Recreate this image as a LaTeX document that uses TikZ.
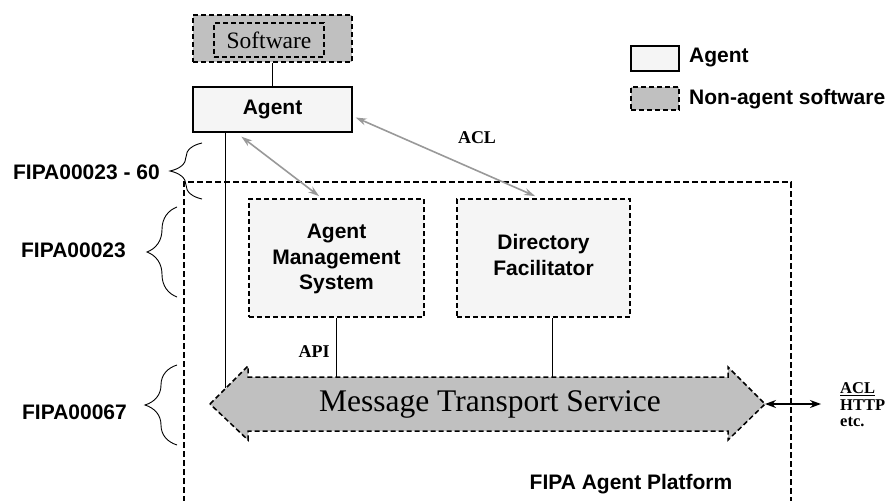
\documentclass[tikz,border=0pt]{standalone}
\usepackage{fontspec}
\setmainfont{Liberation Serif}
\setsansfont{Liberation Sans}
\usetikzlibrary{arrows.meta,decorations.pathreplacing,calc}
\definecolor{lightbox}{HTML}{F5F5F5}
\definecolor{swgray}{HTML}{C0C0C0}
\definecolor{arrgray}{HTML}{999999}
\begin{document}
\begin{tikzpicture}[x=1pt,y=-1pt,
  sflab/.style={font=\fontsize{21}{25.5}\selectfont\sffamily\bfseries, inner sep=0pt},
  serlab/.style={font=\fontsize{18}{20}\selectfont\bfseries, inner sep=0pt},
  agentbox/.style={draw, line width=1.3pt, fill=lightbox, inner sep=0pt},
  dbox/.style={draw, line width=1.8pt, dash pattern=on 5pt off 3pt, inner sep=0pt},
  swbox/.style={dbox, fill=swgray},
  compbox/.style={dbox, fill=lightbox},
  boxtext/.style={align=center, inner sep=0pt, font=\fontsize{21}{25.5}\selectfont\sffamily\bfseries},
  platbox/.style={draw, line width=2pt, dash pattern=on 6pt off 3pt},
  thinline/.style={draw, line width=1pt},
  grarr/.style={draw=arrgray, line width=1.6pt, {Stealth[length=11pt,width=7pt]}-{Stealth[length=11pt,width=7pt]}},
  bkarr/.style={draw, line width=1.3pt, {Stealth[length=11pt,width=8pt]}-{Stealth[length=11pt,width=8pt]}},
  bracestyle/.style={draw, line width=0.9pt, decorate},
]
\useasboundingbox (0,0) rectangle (890,500);

% platform
\draw[platbox] (184,520) -- (184,182) -- (791,182) -- (791,520);
\node[sflab] (plat) at (631,484) {FIPA Agent Platform};

% software and agent
\node[swbox, minimum width=159pt, minimum height=47pt] (sw) at (272.5,38.5) {};
\node[dbox, minimum width=110pt, minimum height=34pt, font=\fontsize{23.5}{26}\selectfont] (swin) at (269,40) {Software};
\node[agentbox, minimum width=159pt, minimum height=45pt, sflab] (agent) at (272.5,109.5) {Agent};
\draw[thinline] (sw.south) -- (agent.north);

% legend
\node[agentbox, minimum width=48pt, minimum height=25pt] (lga) at (655,58.5) {};
\node[sflab, anchor=west] (lgat) at (689,58) {Agent};
\node[swbox, minimum width=48pt, minimum height=23pt] (lgn) at (655,98.5) {};
\node[sflab, anchor=west] (lgnt) at (689,99) {Non-agent software};

% AMS and DF
\node[compbox, minimum width=175pt, minimum height=118pt] (ams) at (336.5,258) {};
\node[boxtext] (amst) at (336.5,259) {Agent\\Management\\System};
\node[compbox, minimum width=173pt, minimum height=118pt] (df) at (543.5,258) {};
\node[boxtext] (dft) at (543.5,255) {Directory\\Facilitator};

% MTS arrow
\draw[fill=swgray, line width=1.5pt, dash pattern=on 5pt off 3pt]
  (210,404) -- (248,366) -- (248,377) -- (728,377) -- (728,367) -- (765,404)
  -- (728,440) -- (728,431) -- (248,431) -- (248,440) -- cycle;
\node[inner sep=0pt, minimum width=480pt, minimum height=54pt, font=\fontsize{31.5}{34}\selectfont] (mts) at (490,404) {Message Transport Service};
\coordinate (mtstip) at (765,404);
\coordinate (ext) at (821,404);
\coordinate (aglow) at (225,388);

\draw[thinline] (ams.south) -- (ams.south |- mts.north);
\draw[thinline] ([xshift=8.5pt]df.south) -- ([xshift=8.5pt]df.south |- mts.north);
\draw[thinline] (agent.south -| aglow) -- (aglow);

\node[serlab] (api) at (314,352) {API};
\node[serlab] (acl) at (477,138) {ACL};

\draw[grarr] ([xshift=49pt,yshift=-4pt]agent.south west) -- ([xshift=71pt,yshift=2pt]ams.north west);
\draw[grarr] ([xshift=3pt,yshift=-8pt]agent.east) -- ([xshift=79pt,yshift=2pt]df.north west);

\draw[bkarr] (mtstip) -- (ext);
\node[anchor=west, align=left, inner sep=0pt, font=\fontsize{16.5}{16.5}\selectfont\bfseries] (proto) at (840,405) {\underline{ACL}\\HTTP\\etc.};

% braces
\draw[bracestyle, decoration={brace, amplitude=32pt}] (202,199) -- (202,143);
\draw[bracestyle, decoration={brace, amplitude=30pt}] (177,297) -- (177,207);
\draw[bracestyle, decoration={brace, amplitude=32pt}] (177,445) -- (177,365);
\node[sflab, anchor=east] (b1) at (160,172) {FIPA00023 - 60};
\node[sflab, anchor=east] (b2) at (126,250) {FIPA00023};
\node[sflab, anchor=east] (b3) at (127,412) {FIPA00067};
\end{tikzpicture}
\end{document}
